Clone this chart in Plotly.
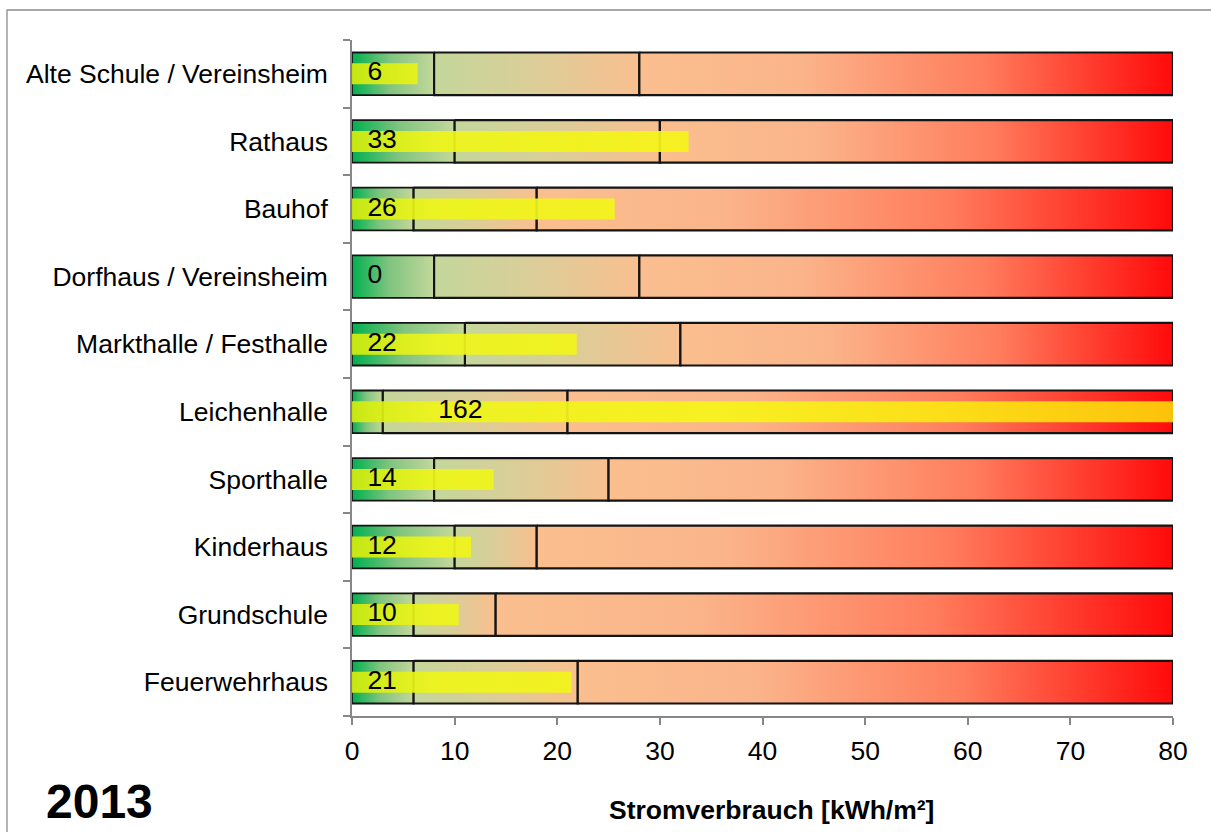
import plotly.graph_objects as go

# ---------------- data ----------------
categories = ["Alte Schule / Vereinsheim", "Rathaus", "Bauhof", "Dorfhaus / Vereinsheim",
              "Markthalle / Festhalle", "Leichenhalle", "Sporthalle", "Kinderhaus",
              "Grundschule", "Feuerwehrhaus"]
values = [6.4, 32.8, 25.6, 0, 21.9, 162, 13.8, 11.6, 10.4, 21.4]
good_limit = [8, 10, 6, 8, 11, 3, 8, 10, 6, 6]
mid_limit = [28, 30, 18, 28, 32, 21, 25, 18, 14, 22]
scale_max = 80
x_ticks = [0, 10, 20, 30, 40, 50, 60, 70, 80]
year_label = "2013"
axis_title = "Stromverbrauch [kWh/m²]"

# ---------------- styling ----------------
FONT = "Liberation Sans, Arial, sans-serif"
GRAY = "#878787"
W, H = 1211, 832
L, R, T, B = 352, 1173, 40, 716
BG_HALF = 0.315
BAR_HALF = 0.155
OVERFLOW_LABEL_X = 8.4
FS = 26.5


def xpaper(px):
    return (px - L) / (R - L)


def ypaper(py):
    return (B - py) / (B - T)


seg_scales = [
    [[0, "#00b050"], [0.45, "#7fc47f"], [1, "#c4d79b"]],
    [[0, "#c4d79b"], [0.5, "#dccd98"], [1, "#f9bf8f"]],
    [[0, "#fabf8f"], [0.3, "#fbb48a"], [0.65, "#ff7c5c"], [1, "#ff0a0a"]],
]
bar_scale = [[0, "#d2ec10"], [0.1, "#eef51a"], [0.45, "#f7f41a"], [0.7, "#fbe614"], [1, "#fdd00a"]]

fig = go.Figure()


def rect(x0, x1, yc, half):
    return [x0, x1, x1, x0, x0], [yc - half, yc - half, yc + half, yc + half, yc - half]


for i, cat in enumerate(categories):
    bounds = [0, good_limit[i], mid_limit[i], scale_max]
    for s in range(3):
        xs, ys = rect(bounds[s], bounds[s + 1], i, BG_HALF)
        fig.add_trace(go.Scatter(
            x=xs, y=ys, mode="lines", fill="toself",
            fillgradient=dict(type="horizontal", colorscale=seg_scales[s]),
            line=dict(color="#141414", width=2.2 if s else 1.8),
            hoverinfo="skip", showlegend=False))

for i, v in enumerate(values):
    if v <= 0:
        continue
    xs, ys = rect(0, v, i, BAR_HALF)
    fig.add_trace(go.Scatter(
        x=xs, y=ys, mode="lines", fill="toself",
        fillgradient=dict(type="horizontal", colorscale=bar_scale, start=0, stop=scale_max),
        line=dict(width=0, color="rgba(0,0,0,0)"), opacity=0.93,
        hoverinfo="skip", showlegend=False))

label_x = [1.5 if v <= scale_max else OVERFLOW_LABEL_X for v in values]
fig.add_trace(go.Scatter(
    x=label_x, y=list(range(len(values))), mode="text",
    text=[f"{v:.0f}" for v in values], textposition="middle right",
    textfont=dict(family=FONT, size=FS, color="black"),
    hoverinfo="skip", showlegend=False))

fig.update_layout(
    width=W, height=H,
    margin=dict(l=L, r=W - R, t=T, b=H - B, pad=0),
    paper_bgcolor="white", plot_bgcolor="white",
    font=dict(family=FONT, size=FS, color="black"),
    showlegend=False,
    xaxis=dict(range=[0, scale_max], tickvals=x_ticks, ticks="outside", ticklen=7,
               tickcolor=GRAY, tickwidth=1.5, showline=True, linecolor=GRAY, linewidth=1.5,
               showgrid=False, zeroline=False, tickfont=dict(size=FS, family=FONT),
               ticklabelstandoff=3, fixedrange=True),
    yaxis=dict(range=[len(categories) - 0.5, -0.5], tickvals=list(range(len(categories))),
               ticktext=categories, ticks="", showline=True, linecolor=GRAY, linewidth=1.5,
               showgrid=False, zeroline=False, tickfont=dict(size=FS, family=FONT),
               ticklabelstandoff=17,
               minor=dict(tickvals=[k - 0.5 for k in range(len(categories) + 1)],
                          ticks="outside", ticklen=7, tickcolor=GRAY, tickwidth=1.5,
                          showgrid=False),
               fixedrange=True),
    shapes=[dict(type="rect", xref="paper", yref="paper",
                 x0=xpaper(7), y0=ypaper(10), x1=xpaper(1240), y1=ypaper(870),
                 line=dict(color="#8c8c8c", width=1.3), fillcolor="rgba(0,0,0,0)",
                 layer="below")],
    annotations=[
        dict(text=f"<b>{year_label}</b>", xref="paper", yref="paper",
             x=xpaper(44), y=ypaper(801), xanchor="left", yanchor="middle",
             showarrow=False, font=dict(family=FONT, size=48, color="black")),
        dict(text=f"<b>{axis_title}</b>", xref="paper", yref="paper",
             x=xpaper(771), y=ypaper(810), xanchor="center", yanchor="middle",
             showarrow=False, font=dict(family=FONT, size=FS, color="black")),
    ],
)

# remove the browser's default 8px body margin so the figure fills the window exactly
fig.write_html("out.html", config={"displayModeBar": False},
               post_script="document.body.style.margin='0';")
